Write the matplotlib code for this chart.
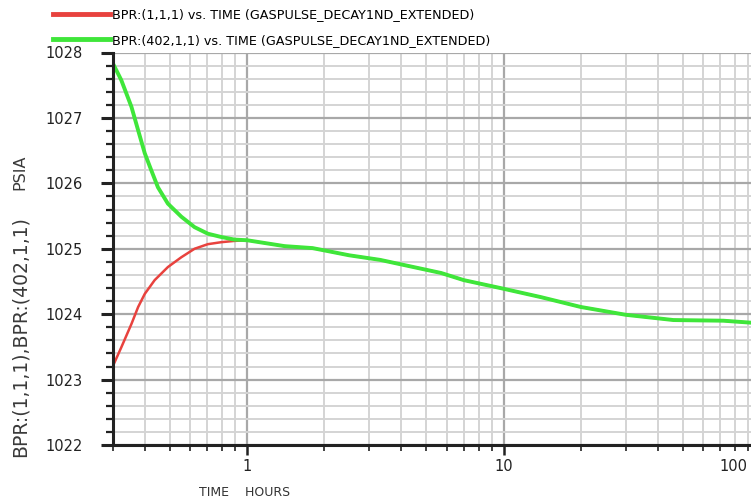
import numpy as np
import matplotlib
matplotlib.use("Agg")
import matplotlib.pyplot as plt
from matplotlib.ticker import LogLocator, MultipleLocator, FixedLocator, NullFormatter
from matplotlib.transforms import ScaledTranslation

# early-time readings (hours, psia)
t_red = [0.30, 0.323, 0.354, 0.376, 0.399, 0.436, 0.491, 0.554, 0.624, 0.703, 0.792, 0.893, 1.0]
bpr_red = [1023.21, 1023.49, 1023.85, 1024.11, 1024.31, 1024.52, 1024.72, 1024.87, 1025.00,
           1025.07, 1025.10, 1025.12, 1025.13]

t_green = [0.30, 0.323, 0.354, 0.376, 0.399, 0.423, 0.449, 0.491, 0.554, 0.624, 0.703, 0.792, 0.893, 1.0]
bpr_green = [1027.83, 1027.58, 1027.17, 1026.81, 1026.46, 1026.20, 1025.94, 1025.69, 1025.49,
             1025.33, 1025.23, 1025.18, 1025.14, 1025.13]

# after ~1 hour both blocks read the same
t_late = [1.4, 1.8, 2.5, 3.3, 5.7, 7.0, 9.7, 14, 20, 30, 46, 72, 100]
bpr_late = [1025.04, 1025.01, 1024.90, 1024.83, 1024.63, 1024.52, 1024.40, 1024.26, 1024.11,
            1023.99, 1023.91, 1023.90, 1023.86]

labels = ["BPR:(1,1,1) vs. TIME (GASPULSE_DECAY1ND_EXTENDED)",
          "BPR:(402,1,1) vs. TIME (GASPULSE_DECAY1ND_EXTENDED)"]
x_ticks = [1, 10, 100]
y_ticks = [1022, 1023, 1024, 1025, 1026, 1027, 1028]

red = "#e8423e"
green = "#3fe63a"

fig = plt.figure(figsize=(7.51, 5.04), dpi=100)
ax = fig.add_axes([113 / 751, 59 / 504, 647 / 751, 392.5 / 504])

ax.plot(t_red + t_late, bpr_red + bpr_late, color=red, lw=1.8, label=labels[0])
ax.plot(t_green + t_late, bpr_green + bpr_late, color=green, lw=2.8, label=labels[1])

ax.set_xscale("log")
ax.set_xlim(0.3, 100)
ax.set_ylim(1022, 1028)

ax.xaxis.set_major_locator(FixedLocator(x_ticks))
ax.set_xticklabels([str(v) for v in x_ticks])
ax.xaxis.set_minor_locator(LogLocator(base=10, subs=np.arange(2, 10)))
ax.xaxis.set_minor_formatter(NullFormatter())
ax.yaxis.set_major_locator(FixedLocator(y_ticks))
ax.yaxis.set_minor_locator(MultipleLocator(0.2))

ax.grid(which="major", color="#a8a8a8", lw=1.6)
ax.grid(which="minor", color="#d4d4d4", lw=1.4)
ax.set_axisbelow(True)

for s in ["top", "right"]:
    ax.spines[s].set_visible(False)
for s in ["left", "bottom"]:
    ax.spines[s].set_linewidth(2.2)
    ax.spines[s].set_color("#222222")

ax.tick_params(axis="y", which="major", length=9, width=2.2, labelsize=10.5, pad=13, colors="#222222")
ax.tick_params(axis="y", which="minor", length=5, width=1.6, colors="#222222")
ax.tick_params(axis="x", which="major", length=7, width=1.8, labelsize=10.5, pad=3, colors="#222222")
ax.tick_params(axis="x", which="minor", length=4, width=1.2, colors="#222222")

# the last label is pulled in so it stays on the page
last = ax.get_xticklabels()[-1]
last.set_transform(last.get_transform() + ScaledTranslation(-0.27, 0, fig.dpi_scale_trans))

# y label in two pieces, like the simulator output
fig.text(20 / 751, 1 - 337 / 504, "BPR:(1,1,1),BPR:(402,1,1)",
         rotation=90, ha="center", va="center", fontsize=13.5, color="#3a3a3a")
fig.text(20 / 751, 1 - 172 / 504, "PSIA",
         rotation=90, ha="center", va="center", fontsize=11.5, color="#3a3a3a")
fig.text(245 / 751, 1 - 492 / 504, "TIME    HOURS", ha="center", va="center",
         fontsize=9, color="#333333")

fig.legend(loc="upper left", bbox_to_anchor=(53 / 751, 1 - 8 / 504), frameon=False,
           fontsize=9.2, handlelength=4.45, handletextpad=0.15, labelspacing=1.0,
           borderpad=0, borderaxespad=0)
leg = fig.legends[0]
for h in leg.legend_handles:
    h.set_linewidth(3.5)

fig.savefig("out.png", dpi=100)
